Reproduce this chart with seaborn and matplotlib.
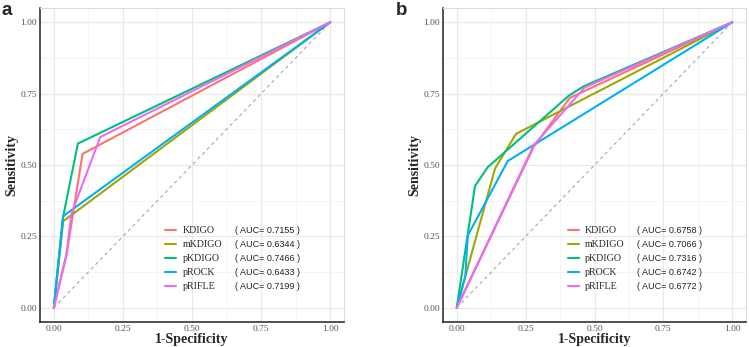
import seaborn as sns
import pandas as pd
import matplotlib.pyplot as plt
from matplotlib.ticker import MultipleLocator

# series names and AUC labels
names = ["KDIGO", "mKDIGO", "pKDIGO", "pROCK", "pRIFLE"]
auc_a = ["0.7155", "0.6344", "0.7466", "0.6433", "0.7199"]
auc_b = ["0.6758", "0.7066", "0.7316", "0.6742", "0.6772"]

# ROC points (1-specificity, sensitivity), panel a
fpr_a = [[0, 0.045, 0.104, 1],
         [0, 0.034, 1],
         [0, 0.032, 0.087, 1],
         [0, 0.034, 1],
         [0, 0.046, 0.064, 0.168, 1]]
tpr_a = [[0, 0.18, 0.539, 1],
         [0, 0.303, 1],
         [0, 0.31, 0.575, 1],
         [0, 0.321, 1],
         [0, 0.19, 0.33, 0.598, 1]]

# panel b
fpr_b = [[0, 0.28, 0.41, 1],
         [0, 0.034, 0.139, 0.215, 1],
         [0, 0.066, 0.112, 0.407, 0.461, 1],
         [0, 0.031, 0.040, 0.185, 1],
         [0, 0.28, 0.465, 1]]
tpr_b = [[0, 0.565, 0.735, 1],
         [0, 0.12, 0.488, 0.609, 1],
         [0, 0.426, 0.492, 0.743, 0.776, 1],
         [0, 0.11, 0.253, 0.514, 1],
         [0, 0.57, 0.772, 1]]

ticks = [0.0, 0.25, 0.5, 0.75, 1.0]
colors = ["#F8766D", "#A3A500", "#00BF7D", "#00B0F6", "#E76BF3"]

SERIF = "Liberation Serif"
SANS = "Liberation Sans"


def to_frame(fprs, tprs):
    rows = []
    for n, xs, ys in zip(names, fprs, tprs):
        for i, (x, y) in enumerate(zip(xs, ys)):
            rows.append({"model": n, "step": i, "fpr": x, "tpr": y})
    return pd.DataFrame(rows)


def draw_panel(fig, rect, fprs, tprs, aucs, letter, letter_pos):
    ax = fig.add_axes(rect)
    df = to_frame(fprs, tprs)
    ax.plot([0, 1], [0, 1], ls=(0, (3, 3)), color="#A6A6A6", lw=0.8, zorder=1)
    sns.lineplot(data=df, x="fpr", y="tpr", hue="model", hue_order=names,
                 palette=colors, sort=False, estimator=None, lw=1.5, ax=ax,
                 zorder=2)
    ax.set_xlim(-0.05, 1.05)
    ax.set_ylim(-0.05, 1.05)
    ax.set_xticks(ticks)
    ax.set_yticks(ticks)
    ax.set_xticklabels([f"{t:.2f}" for t in ticks])
    ax.set_yticklabels([f"{t:.2f}" for t in ticks])
    ax.xaxis.set_minor_locator(MultipleLocator(0.125))
    ax.yaxis.set_minor_locator(MultipleLocator(0.125))
    ax.grid(which="major", color="#E8E8E8", lw=0.9)
    ax.grid(which="minor", color="#F2F2F2", lw=0.6)
    ax.set_axisbelow(True)
    ax.tick_params(which="both", length=0, pad=2, labelsize=6.8,
                   labelcolor="#555555")
    for lab in ax.get_xticklabels() + ax.get_yticklabels():
        lab.set_fontfamily(SERIF)
    for s in ["left", "bottom"]:
        ax.spines[s].set_color("#222222")
        ax.spines[s].set_linewidth(1.1)
    for s in ["top", "right"]:
        ax.spines[s].set_color("#DDDDDD")
        ax.spines[s].set_linewidth(0.8)
    ax.set_xlabel("1-Specificity", fontfamily=SERIF, fontweight="bold",
                  fontsize=10, labelpad=0)
    ax.set_ylabel("Sensitivity", fontfamily=SERIF, fontweight="bold",
                  fontsize=10, labelpad=2)

    handles, labels = ax.get_legend_handles_labels()
    leg = ax.legend(handles, labels, loc="upper left",
                    bbox_to_anchor=(0.411, 0.305), frameon=False,
                    borderpad=0, borderaxespad=0, handlelength=1.15,
                    handletextpad=0.6, labelspacing=0.5,
                    prop={"family": SERIF, "size": 7.2})
    fig.canvas.draw()
    inv = ax.transAxes.inverted()
    for t, a in zip(leg.get_texts(), aucs):
        bb = t.get_window_extent()
        yc = inv.transform((0, (bb.y0 + bb.y1) / 2))[1]
        ax.text(0.641, yc, f"( AUC= {a} )", transform=ax.transAxes,
                va="center", ha="left", fontsize=6.5, fontfamily=SANS,
                color="#222222")
    fig.text(letter_pos[0], letter_pos[1], letter, fontfamily=SANS,
             fontweight="bold", fontsize=13.5, va="top", ha="left")
    return ax


def main():
    sns.set_style("white")
    fig = plt.figure(figsize=(7.49, 3.47), dpi=100)
    W, H = 749, 347
    rect_a = [40 / W, (H - 322) / H, 304 / W, 314 / H]
    rect_b = [443 / W, (H - 322) / H, 303 / W, 314 / H]
    draw_panel(fig, rect_a, fpr_a, tpr_a, auc_a, "a", (2 / W, 1 - 2 / H))
    draw_panel(fig, rect_b, fpr_b, tpr_b, auc_b, "b", (396 / W, 1 - 2 / H))
    fig.savefig("out.png", dpi=100, facecolor="white")


if __name__ == "__main__":
    main()
